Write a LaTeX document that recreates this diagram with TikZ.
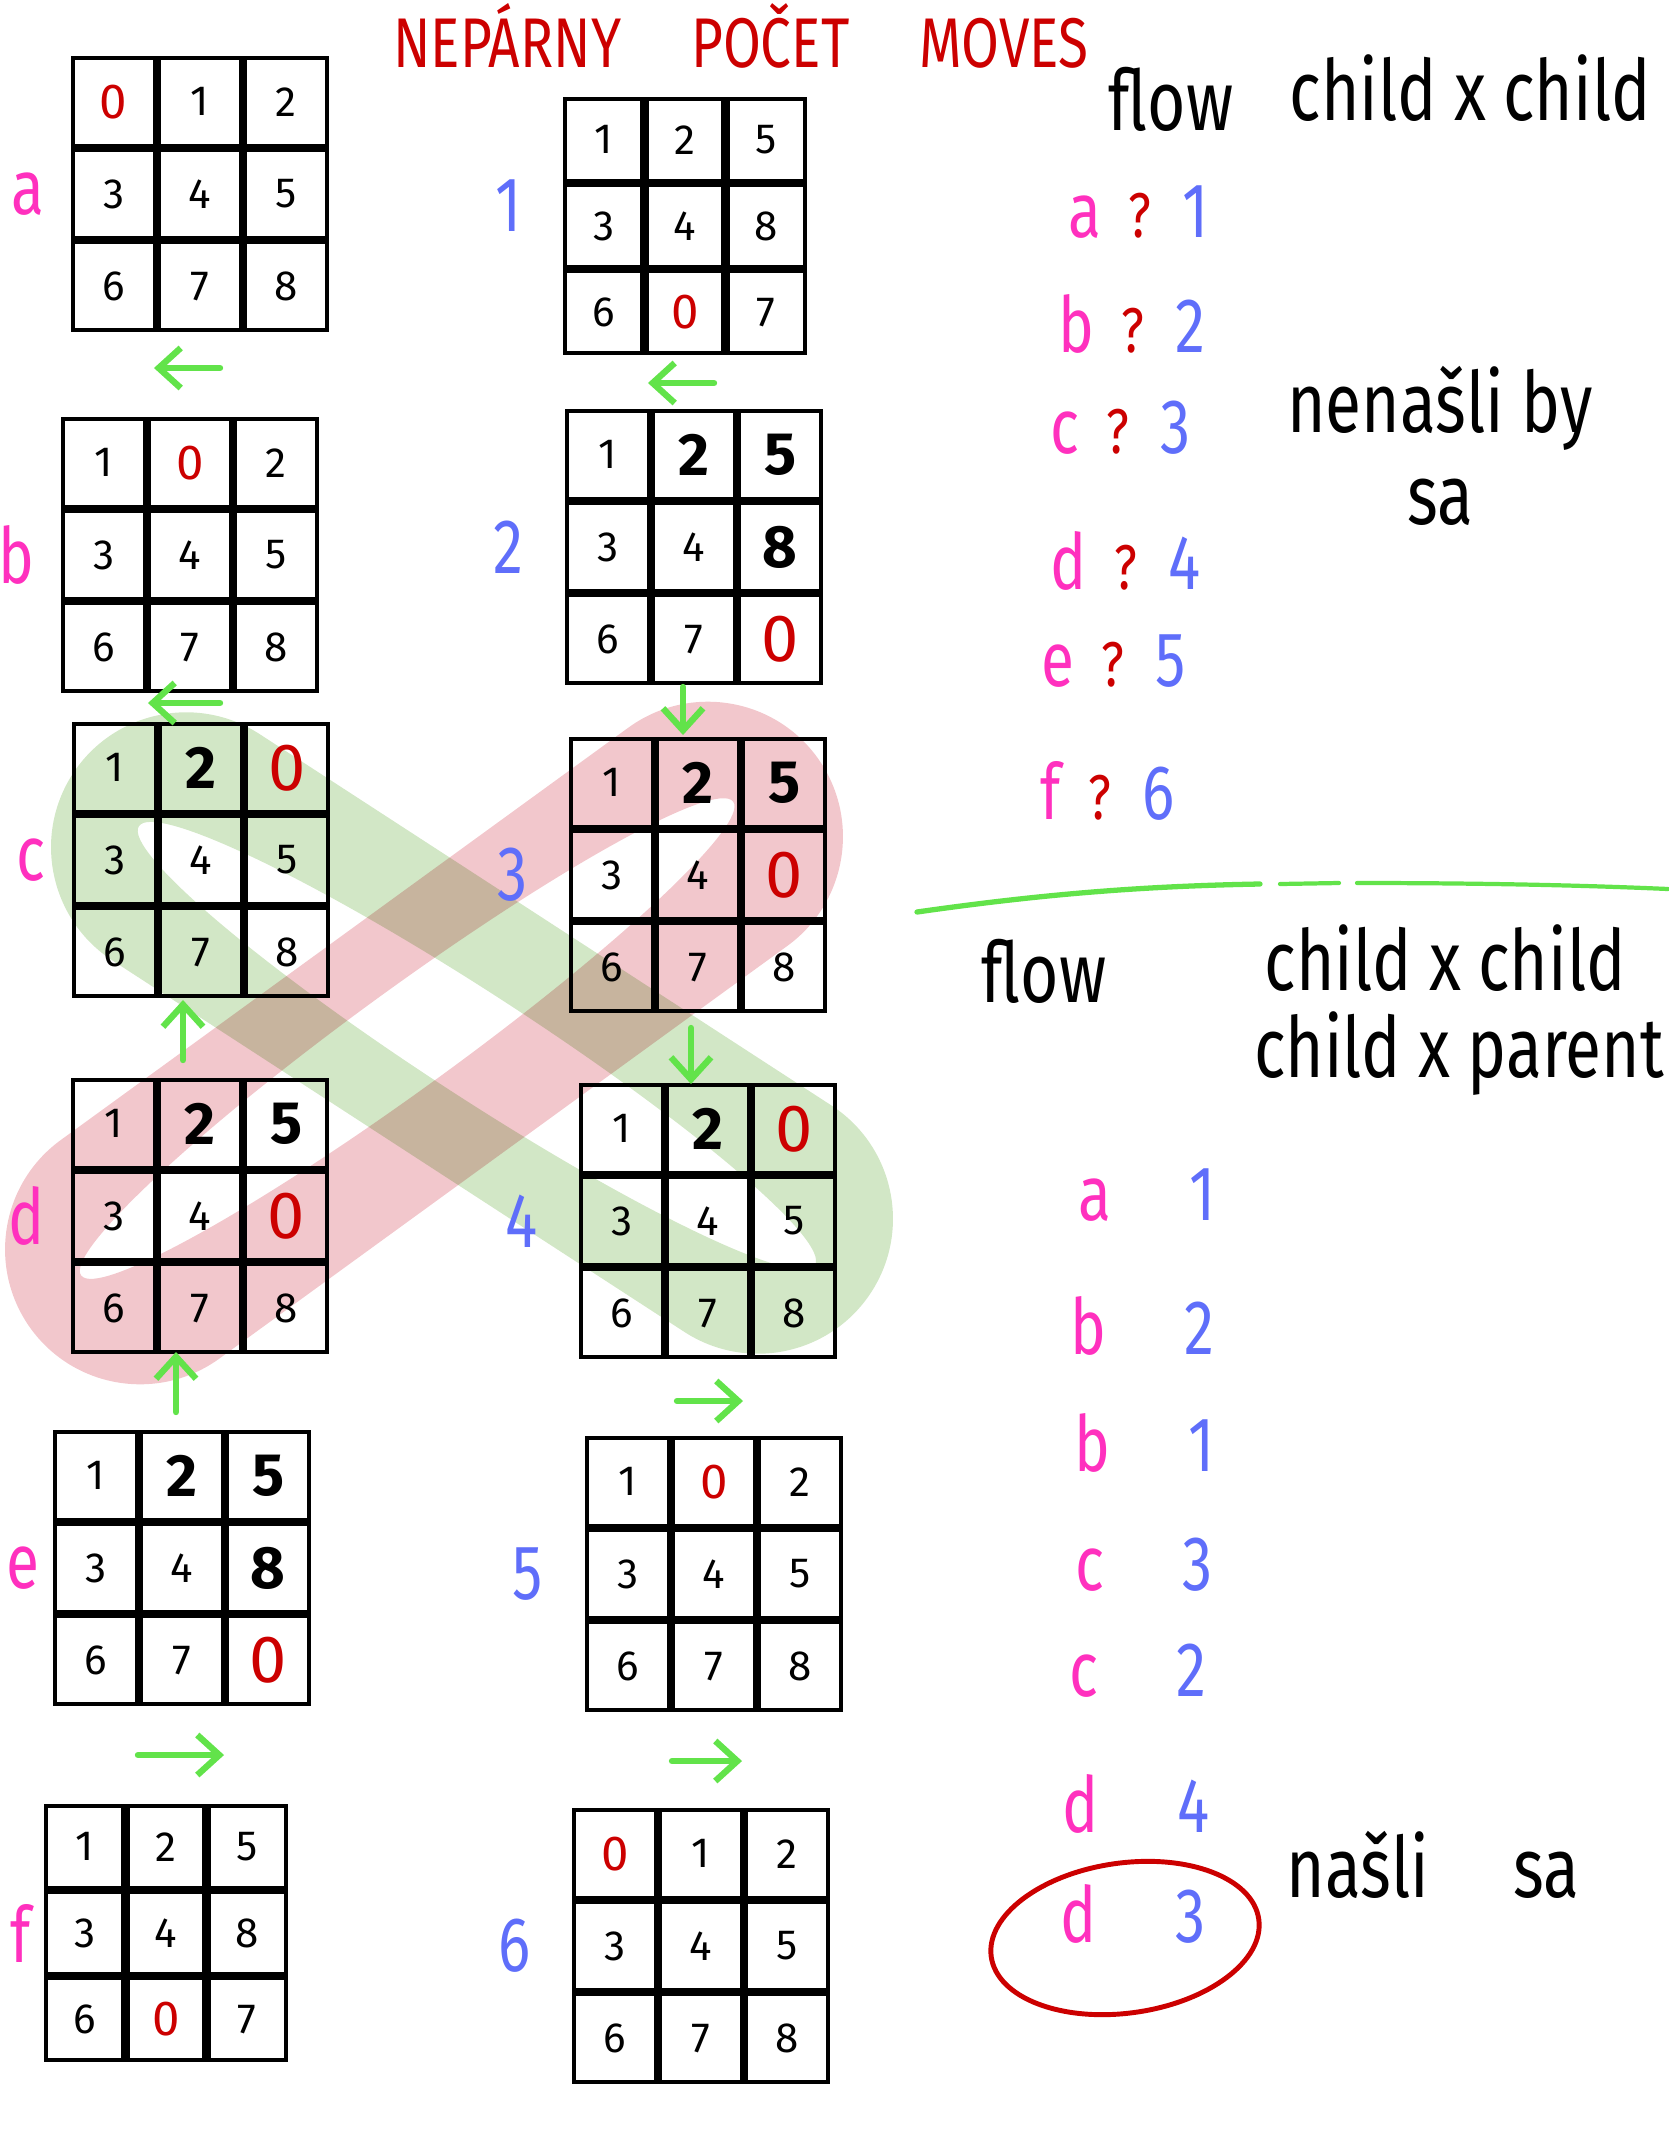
\documentclass[tikz,border=0pt]{standalone}
\usepackage{fontspec}
\setmainfont{Fira Sans}
\newfontfamily\hand{Fira Sans}[FakeStretch=0.78]
\usetikzlibrary{matrix,positioning,arrows.meta,shapes.geometric}

\definecolor{labpink}{HTML}{FF30BE}
\definecolor{numblue}{HTML}{5F6EFA}
\definecolor{markred}{HTML}{CC0000}
\definecolor{movegreen}{HTML}{62E34A}
\definecolor{ringgreen}{HTML}{D2E7C6}
\definecolor{ringred}{HTML}{F2C7CC}

\tikzset{
  cell/.style={draw,line width=1.2pt,minimum width=8.2mm,minimum height=8.8mm,
               inner sep=0pt,outer sep=0pt,anchor=center,font=\fontsize{12}{12}\selectfont},
  board/.style={matrix of nodes,nodes={cell},column sep=0pt,row sep=0pt,inner sep=0pt},
  smallboard/.style={nodes={minimum width=7.7mm,minimum height=8.2mm}},
  zero/.style={text=markred,font=\fontsize{14}{14}\selectfont},
  bigzero/.style={text=markred,font=\fontsize{19}{19}\selectfont},
  heavy/.style={font=\fontsize{17}{17}\selectfont\bfseries},
  slide/.style={-{Straight Barb[length=2.2mm,width=4mm]},line width=1.8pt,movegreen,line cap=round},
  who/.style={font=\hand\fontsize{22}{22}\selectfont,text=labpink,inner sep=0pt},
  kid/.style={font=\hand\fontsize{22}{22}\selectfont,text=numblue,inner sep=0pt},
  ask/.style={font=\hand\fontsize{18}{18}\selectfont,text=markred,inner sep=0pt},
  hw/.style={font=\hand\fontsize{24}{26}\selectfont,align=center},
}

\begin{document}
\begin{tikzpicture}[x=0.01cm,y=-0.01cm]
  \useasboundingbox (0,0) rectangle (1668,2154);

  %% highlight loops
  \begin{scope}[blend group=multiply]
    \begin{scope}[shift={(472,1033)},rotate=-33]
      \fill[ringgreen,even odd rule]
        [rounded corners=13.5mm] (-476,-135) rectangle (476,135)
        [sharp corners] (11,8) ellipse [x radius=403,y radius=52];
    \end{scope}
    \begin{scope}[shift={(424,1043)},rotate=36]
      \fill[ringred,even odd rule]
        [rounded corners=13.5mm] (-486,-135) rectangle (486,135)
        [sharp corners] (-11,-13.5) ellipse [x radius=403,y radius=50];
    \end{scope}
  \end{scope}

  \node[font=\hand\fontsize{20}{20}\selectfont,text=markred] (title) at (741,36)
    {NEPÁRNY\hspace{7mm}POČET\hspace{7mm}MOVES};

  %% left column
  \matrix[board] (a) at (200,194) {
    |[zero]| 0 & 1 & 2 \\
    3 & 4 & 5 \\
    6 & 7 & 8 \\
  };
  \matrix[board] (b) at (190,555) {
    1 & |[zero]| 0 & 2 \\
    3 & 4 & 5 \\
    6 & 7 & 8 \\
  };
  \matrix[board] (c) at (201,860) {
    1 & |[heavy]| 2 & |[bigzero]| 0 \\
    3 & 4 & 5 \\
    6 & 7 & 8 \\
  };
  \matrix[board] (d) at (200,1216) {
    1 & |[heavy]| 2 & |[heavy]| 5 \\
    3 & 4 & |[bigzero]| 0 \\
    6 & 7 & 8 \\
  };
  \matrix[board] (e) at (182,1568) {
    1 & |[heavy]| 2 & |[heavy]| 5 \\
    3 & 4 & |[heavy]| 8 \\
    6 & 7 & |[bigzero]| 0 \\
  };
  \matrix[board,smallboard] (f) at (166,1933) {
    1 & 2 & 5 \\
    3 & 4 & 8 \\
    6 & |[zero]| 0 & 7 \\
  };

  %% right column
  \matrix[board,smallboard] (n1) at (685,226) {
    1 & 2 & 5 \\
    3 & 4 & 8 \\
    6 & |[zero]| 0 & 7 \\
  };
  \matrix[board] (n2) at (694,547) {
    1 & |[heavy]| 2 & |[heavy]| 5 \\
    3 & 4 & |[heavy]| 8 \\
    6 & 7 & |[bigzero]| 0 \\
  };
  \matrix[board] (n3) at (698,875) {
    1 & |[heavy]| 2 & |[heavy]| 5 \\
    3 & 4 & |[bigzero]| 0 \\
    6 & 7 & 8 \\
  };
  \matrix[board] (n4) at (708,1221) {
    1 & |[heavy]| 2 & |[bigzero]| 0 \\
    3 & 4 & 5 \\
    6 & 7 & 8 \\
  };
  \matrix[board] (n5) at (714,1574) {
    1 & |[zero]| 0 & 2 \\
    3 & 4 & 5 \\
    6 & 7 & 8 \\
  };
  \matrix[board] (n6) at (701,1946) {
    |[zero]| 0 & 1 & 2 \\
    3 & 4 & 5 \\
    6 & 7 & 8 \\
  };

  %% board labels
  \node[who,left=2.5mm of a] (la) {a};
  \node[who,left=2.5mm of b] (lb) {b};
  \node[who,left=2.5mm of c] (lc) {c};
  \node[who,left=2.5mm of d] (ld) {d};
  \node[who,left=1.2mm of e] (le) {e};
  \node[who,left=1.2mm of f] (lf) {f};
  \node[kid,left=4mm of n1,yshift=2mm] (l1) {1};
  \node[kid,left=4mm of n2] (l2) {2};
  \node[kid,left=4mm of n3] (l3) {3};
  \node[kid,left=4mm of n4] (l4) {4};
  \node[kid,left=4mm of n5] (l5) {5};
  \node[kid,left=4mm of n6] (l6) {6};

  %% moves of the blank
  \coordinate (m1) at (187,368);
  \coordinate (m2) at (681,383);
  \coordinate (m3) at (184,703);
  \coordinate (m4) at (683,711);
  \coordinate (m5) at (183,1030);
  \coordinate (m6) at (691,1056);
  \coordinate (m7) at (176,1382);
  \coordinate (m8) at (710,1401);
  \coordinate (m9) at (181,1755);
  \coordinate (m10) at (707,1761);
  \draw[slide] ([xshift=3.3mm]m1) -- ([xshift=-3.3mm]m1);
  \draw[slide] ([xshift=3.3mm]m2) -- ([xshift=-3.3mm]m2);
  \draw[slide] ([xshift=3.6mm]m3) -- ([xshift=-3.6mm]m3);
  \draw[slide] ([yshift=2.4mm]m4) -- ([yshift=-2.4mm]m4);
  \draw[slide] ([yshift=-3mm]m5) -- ([yshift=3mm]m5);
  \draw[slide] ([yshift=2.8mm]m6) -- ([yshift=-2.8mm]m6);
  \draw[slide] ([yshift=-3mm]m7) -- ([yshift=3mm]m7);
  \draw[slide] ([xshift=-3.3mm]m8) -- ([xshift=3.3mm]m8);
  \draw[slide] ([xshift=-4.3mm]m9) -- ([xshift=4.3mm]m9);
  \draw[slide] ([xshift=-3.5mm]m10) -- ([xshift=3.5mm]m10);

  %% flow x flow, first try
  \node[hw] (flowA) at (1171,99) {flow};
  \node[hw] (crossA) at (1470,88) {child x child};
  \foreach \l/\n/\x/\y [count=\i] in {a/1/1085/217,b/2/1076/324,c/3/1065/433,
                                      d/4/1069/561,e/5/1058/666,f/6/1051/790}{
    \node[who] (ql\i) at (\x,\y) {\l};
    \node[ask,base right=2.6mm of ql\i] (qa\i) {?};
    \node[kid,base right=3mm of qa\i] (qn\i) {\n};
  }
  \node[hw] (miss) at (1440,446) {nenašli by\\sa};

  \draw[movegreen,line width=1.5pt,line cap=round]
    (917,912) .. controls (1050,893) and (1150,886) .. (1260,884);
  \draw[movegreen,line width=1.2pt,line cap=round] (1280,884) -- (1339,883);
  \draw[movegreen,line width=1.2pt,line cap=round]
    (1357,883) .. controls (1500,883) and (1600,886) .. (1668,889);

  %% second try
  \node[hw] (flowB) at (1044,971) {flow};
  \node[hw] (crossB) at (1445,958) {child x child};
  \node[hw] (crossC) at (1459,1054) {child x parent};
  \foreach \l/\n/\x/\y [count=\i] in {a/1/1095/1200,b/2/1088/1326,b/1/1092/1443,
                                      c/3/1090/1570,c/2/1084/1676,d/4/1081/1804,d/3/1079/1914}{
    \node[who] (pl\i) at (\x,\y) {\l};
    \node[kid,base right=7.7mm of pl\i] (pn\i) {\n};
  }
  \node[draw=markred,line width=1.4pt,ellipse,minimum width=27mm,minimum height=15mm,
        rotate=8] (hit) at (1125,1938) {};
  \node[hw] (found) at (1433,1865) {našli\quad sa};
\end{tikzpicture}
\end{document}
